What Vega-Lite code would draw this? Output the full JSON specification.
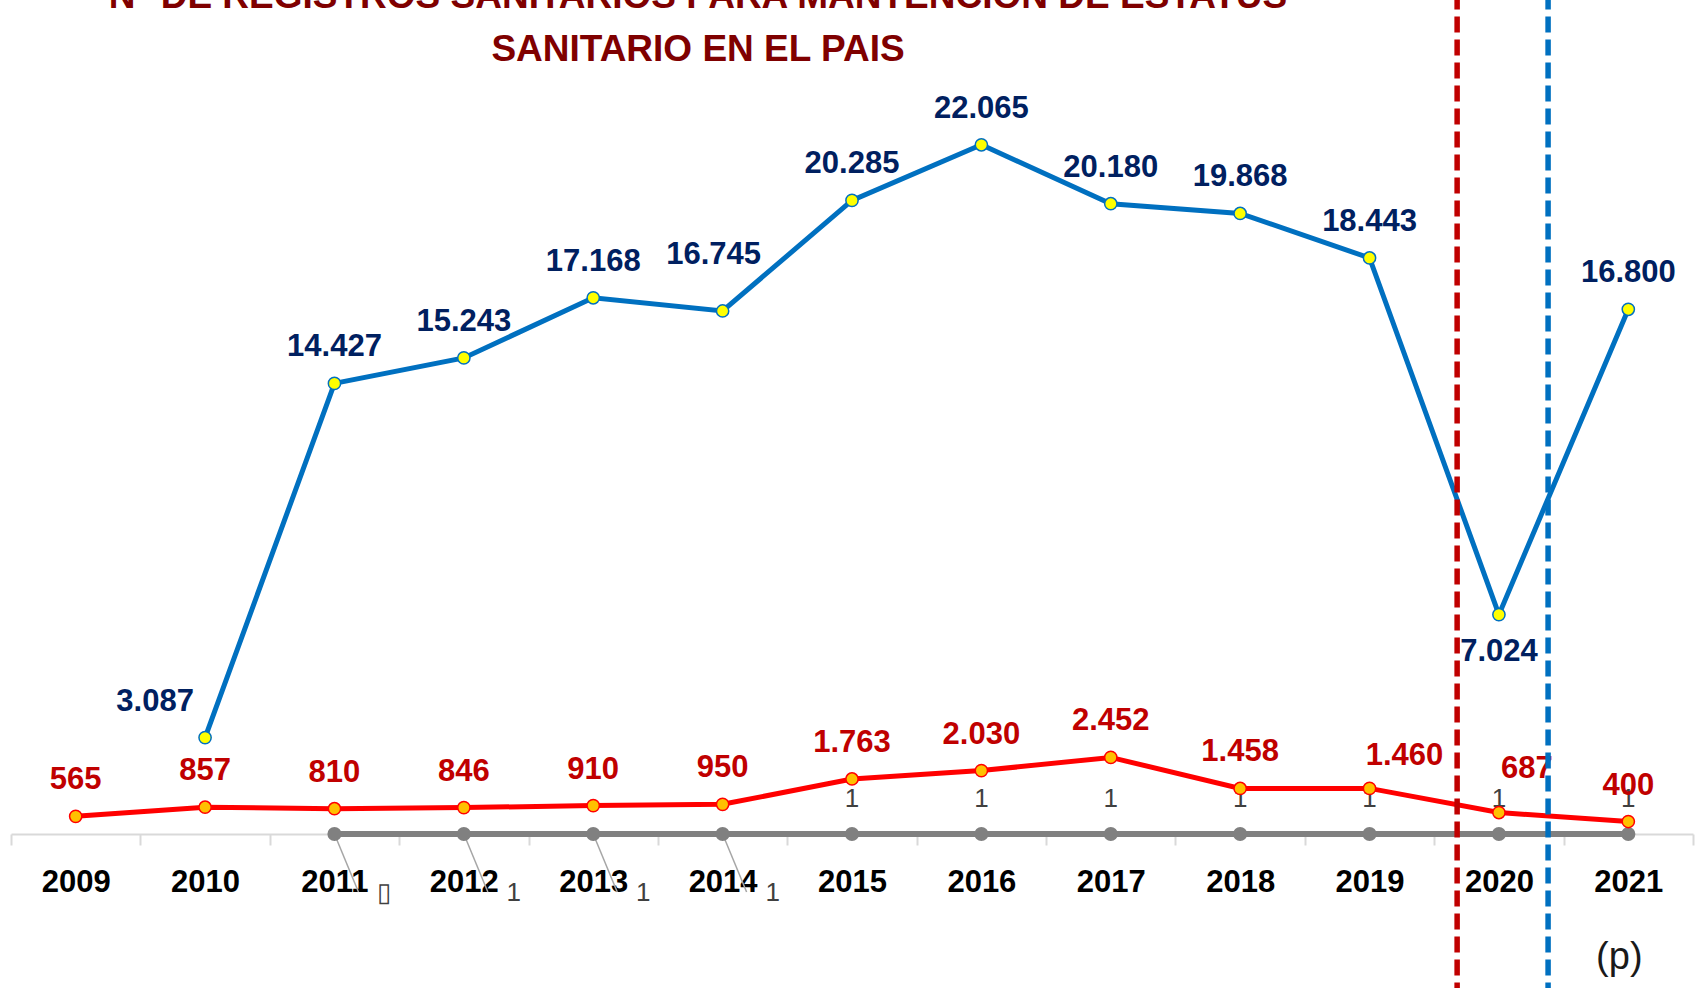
{
  "$schema": "https://vega.github.io/schema/vega-lite/v6.json",
  "width": 1682,
  "height": 734,
  "autosize": {"type": "none"},
  "padding": {"left": 11, "top": 100, "right": 3, "bottom": 154},
  "background": "white",
  "title": {
    "text": ["N° DE REGISTROS SANITARIOS PARA MANTENCION DE ESTATUS", "SANITARIO EN EL PAIS"],
    "font": "Liberation Sans",
    "fontSize": 37,
    "fontWeight": "bold",
    "color": "#7f0000",
    "anchor": "middle",
    "frame": "group",
    "dx": -154,
    "offset": -72,
    "lineHeight": 53
  },
  "config": {
    "view": {"stroke": null},
    "locale": {"number": {"decimal": ",", "thousands": ".", "grouping": [3], "currency": ["", ""]}}
  },
  "data": {
    "values": [
      {"year": 2009, "series": "sanitarios", "value": 565},
      {"year": 2010, "series": "sanitarios", "value": 857},
      {"year": 2011, "series": "sanitarios", "value": 810},
      {"year": 2012, "series": "sanitarios", "value": 846},
      {"year": 2013, "series": "sanitarios", "value": 910},
      {"year": 2014, "series": "sanitarios", "value": 950},
      {"year": 2015, "series": "sanitarios", "value": 1763},
      {"year": 2016, "series": "sanitarios", "value": 2030},
      {"year": 2017, "series": "sanitarios", "value": 2452},
      {"year": 2018, "series": "sanitarios", "value": 1458},
      {"year": 2019, "series": "sanitarios", "value": 1460},
      {"year": 2020, "series": "sanitarios", "value": 687},
      {"year": 2021, "series": "sanitarios", "value": 400},
      {"year": 2010, "series": "registros", "value": 3087},
      {"year": 2011, "series": "registros", "value": 14427},
      {"year": 2012, "series": "registros", "value": 15243},
      {"year": 2013, "series": "registros", "value": 17168},
      {"year": 2014, "series": "registros", "value": 16745},
      {"year": 2015, "series": "registros", "value": 20285},
      {"year": 2016, "series": "registros", "value": 22065},
      {"year": 2017, "series": "registros", "value": 20180},
      {"year": 2018, "series": "registros", "value": 19868},
      {"year": 2019, "series": "registros", "value": 18443},
      {"year": 2020, "series": "registros", "value": 7024},
      {"year": 2021, "series": "registros", "value": 16800},
      {"year": 2011, "series": "otros", "value": 1, "label": "▯"},
      {"year": 2012, "series": "otros", "value": 1, "label": "1"},
      {"year": 2013, "series": "otros", "value": 1, "label": "1"},
      {"year": 2014, "series": "otros", "value": 1, "label": "1"},
      {"year": 2015, "series": "otros", "value": 1, "label": "1"},
      {"year": 2016, "series": "otros", "value": 1, "label": "1"},
      {"year": 2017, "series": "otros", "value": 1, "label": "1"},
      {"year": 2018, "series": "otros", "value": 1, "label": "1"},
      {"year": 2019, "series": "otros", "value": 1, "label": "1"},
      {"year": 2020, "series": "otros", "value": 1, "label": "1"},
      {"year": 2021, "series": "otros", "value": 1, "label": "1"}
    ]
  },
  "encoding": {
    "x": {
      "field": "year",
      "type": "ordinal",
      "scale": {"domain": [2009, 2010, 2011, 2012, 2013, 2014, 2015, 2016, 2017, 2018, 2019, 2020, 2021], "paddingInner": 0, "paddingOuter": 0},
      "axis": {
        "title": null,
        "labelAngle": 0,
        "labelFont": "Liberation Sans",
        "labelFontSize": 31,
        "labelFontWeight": "bold",
        "labelColor": "#000000",
        "labelPadding": 22,
        "domainColor": "#d9d9d9",
        "domainWidth": 2,
        "tickColor": "#d9d9d9",
        "tickWidth": 2,
        "tickSize": 11,
        "tickBand": "extent",
        "grid": false
      }
    },
    "y": {
      "field": "value",
      "type": "quantitative",
      "scale": {"domain": [0, 23500], "nice": false, "zero": true},
      "axis": null
    }
  },
  "layer": [
    {
      "transform": [{"filter": "datum.series == 'otros' && datum.year <= 2014"}],
      "mark": {"type": "rule", "color": "#a6a6a6", "strokeWidth": 1.5},
      "encoding": {
        "x2": {"field": "year"},
        "y2": {"field": "value"},
        "x2Offset": {"value": 24},
        "y2Offset": {"value": 58}
      }
    },
    {
      "transform": [{"filter": "datum.series == 'otros' && datum.year <= 2014"}],
      "mark": {"type": "rule", "color": "#a6a6a6", "strokeWidth": 1.5, "xOffset": 24, "yOffset": 58},
      "encoding": {
        "x2": {"field": "year"},
        "y2": {"field": "value"},
        "x2Offset": {"value": 36},
        "y2Offset": {"value": 58}
      }
    },
    {
      "transform": [{"filter": "datum.series == 'otros' && datum.year <= 2014"}],
      "mark": {"type": "text", "font": "Liberation Sans", "fontSize": 26, "color": "#404040", "baseline": "middle", "align": "center", "dx": 50, "dy": 59},
      "encoding": {"text": {"field": "label"}}
    },
    {
      "transform": [{"filter": "datum.series == 'otros' && datum.year > 2014"}],
      "mark": {"type": "text", "font": "Liberation Sans", "fontSize": 26, "color": "#404040", "baseline": "middle", "align": "center", "dy": -35},
      "encoding": {"text": {"field": "label"}}
    },
    {
      "transform": [{"filter": "datum.series == 'otros'"}],
      "mark": {"type": "line", "color": "#808080", "strokeWidth": 6}
    },
    {
      "transform": [{"filter": "datum.series == 'otros'"}],
      "mark": {"type": "point", "shape": "circle", "filled": true, "color": "#808080", "size": 200, "opacity": 1}
    },
    {
      "transform": [{"filter": "datum.series == 'sanitarios'"}],
      "mark": {"type": "line", "color": "#ff0000", "strokeWidth": 5}
    },
    {
      "transform": [{"filter": "datum.series == 'sanitarios'"}],
      "mark": {"type": "point", "shape": "circle", "filled": true, "fill": "#ffc000", "stroke": "#ff0000", "strokeWidth": 1.5, "size": 150, "opacity": 1}
    },
    {
      "transform": [{"filter": "datum.series == 'registros'"}],
      "mark": {"type": "line", "color": "#0070c0", "strokeWidth": 5}
    },
    {
      "transform": [{"filter": "datum.series == 'registros'"}],
      "mark": {"type": "point", "shape": "circle", "filled": true, "fill": "#ffff00", "stroke": "#0070c0", "strokeWidth": 1.5, "size": 150, "opacity": 1}
    },
    {
      "transform": [{"filter": "datum.series == 'registros' && datum.year == 2010"}],
      "mark": {"type": "rule", "color": "#a6a6a6", "strokeWidth": 1.5},
      "encoding": {"x2": {"field": "year"}, "y2": {"field": "value"}, "x2Offset": {"value": -46}, "y2Offset": {"value": -14}}
    },
    {
      "transform": [{"filter": "datum.series == 'registros' && datum.year == 2014"}],
      "mark": {"type": "rule", "color": "#a6a6a6", "strokeWidth": 1.5},
      "encoding": {"x2": {"field": "year"}, "y2": {"field": "value"}, "x2Offset": {"value": -10}, "y2Offset": {"value": -32}}
    },
    {
      "transform": [{"filter": "datum.series == 'sanitarios' && datum.year == 2019"}],
      "mark": {"type": "rule", "color": "#a6a6a6", "strokeWidth": 1.5},
      "encoding": {"x2": {"field": "year"}, "y2": {"field": "value"}, "x2Offset": {"value": 34}, "y2Offset": {"value": -12}}
    },
    {
      "transform": [{"filter": "datum.series == 'sanitarios' && datum.year == 2020"}],
      "mark": {"type": "rule", "color": "#a6a6a6", "strokeWidth": 1.5},
      "encoding": {"x2": {"field": "year"}, "y2": {"field": "value"}, "x2Offset": {"value": 30}, "y2Offset": {"value": -21}}
    },
    {
      "transform": [{"filter": "datum.series == 'registros' && datum.year != 2010 && datum.year != 2014 && datum.year != 2020"}],
      "mark": {"type": "text", "font": "Liberation Sans", "fontSize": 31, "fontWeight": "bold", "color": "#002060", "baseline": "middle", "align": "center", "dy": -36},
      "encoding": {"text": {"field": "value", "type": "quantitative", "format": ",d"}}
    },
    {
      "transform": [{"filter": "datum.series == 'registros' && datum.year == 2010"}],
      "mark": {"type": "text", "font": "Liberation Sans", "fontSize": 31, "fontWeight": "bold", "color": "#002060", "baseline": "middle", "align": "center", "dx": -50, "dy": -36},
      "encoding": {"text": {"field": "value", "type": "quantitative", "format": ",d"}}
    },
    {
      "transform": [{"filter": "datum.series == 'registros' && datum.year == 2014"}],
      "mark": {"type": "text", "font": "Liberation Sans", "fontSize": 31, "fontWeight": "bold", "color": "#002060", "baseline": "middle", "align": "center", "dx": -9, "dy": -56},
      "encoding": {"text": {"field": "value", "type": "quantitative", "format": ",d"}}
    },
    {
      "transform": [{"filter": "datum.series == 'registros' && datum.year == 2020"}],
      "mark": {"type": "text", "font": "Liberation Sans", "fontSize": 31, "fontWeight": "bold", "color": "#002060", "baseline": "middle", "align": "center", "dy": 37},
      "encoding": {"text": {"field": "value", "type": "quantitative", "format": ",d"}}
    },
    {
      "transform": [{"filter": "datum.series == 'sanitarios' && datum.year != 2019 && datum.year != 2020"}],
      "mark": {"type": "text", "font": "Liberation Sans", "fontSize": 31, "fontWeight": "bold", "color": "#c00000", "baseline": "middle", "align": "center", "dy": -36},
      "encoding": {"text": {"field": "value", "type": "quantitative", "format": ",d"}}
    },
    {
      "transform": [{"filter": "datum.series == 'sanitarios' && datum.year == 2019"}],
      "mark": {"type": "text", "font": "Liberation Sans", "fontSize": 31, "fontWeight": "bold", "color": "#c00000", "baseline": "middle", "align": "center", "dx": 35, "dy": -32},
      "encoding": {"text": {"field": "value", "type": "quantitative", "format": ",d"}}
    },
    {
      "transform": [{"filter": "datum.series == 'sanitarios' && datum.year == 2020"}],
      "mark": {"type": "text", "font": "Liberation Sans", "fontSize": 31, "fontWeight": "bold", "color": "#c00000", "baseline": "middle", "align": "center", "dx": 28, "dy": -44},
      "encoding": {"text": {"field": "value", "type": "quantitative", "format": ",d"}}
    },
    {
      "transform": [{"filter": "datum.series == 'otros' && datum.year == 2020"}],
      "mark": {"type": "rule", "color": "#c00000", "strokeWidth": 5.5, "strokeDash": [16, 7]},
      "encoding": {
        "x": {"field": "year", "type": "ordinal", "bandPosition": 0.177},
        "y": {"datum": -6000, "type": "quantitative"},
        "y2": {"datum": 26702}
      }
    },
    {
      "transform": [{"filter": "datum.series == 'otros' && datum.year == 2020"}],
      "mark": {"type": "rule", "color": "#0070c0", "strokeWidth": 5.5, "strokeDash": [16, 7]},
      "encoding": {
        "x": {"field": "year", "type": "ordinal", "bandPosition": 0.88},
        "y": {"datum": -6000, "type": "quantitative"},
        "y2": {"datum": 26702}
      }
    },
    {
      "transform": [{"filter": "datum.series == 'otros' && datum.year == 2021"}],
      "mark": {"type": "text", "text": "(p)", "font": "Liberation Sans", "fontSize": 38, "color": "#1a1a1a", "baseline": "middle", "align": "center", "dx": -9},
      "encoding": {
        "y": {"datum": -3970, "type": "quantitative"}
      }
    }
  ]
}
